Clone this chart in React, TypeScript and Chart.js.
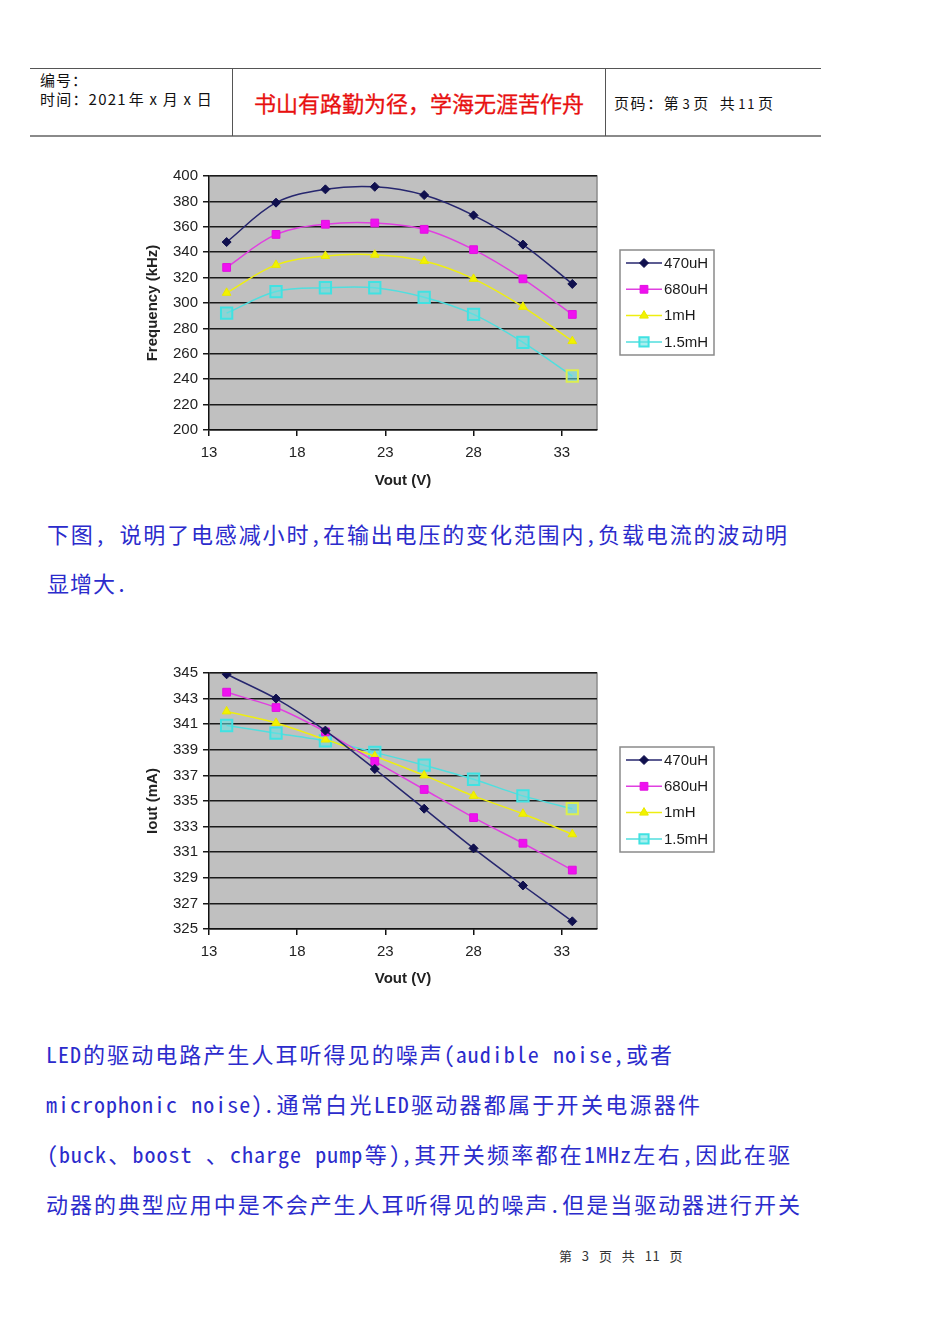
import React, { useEffect, useRef } from "react";
import { Chart, registerables } from "chart.js";

Chart.register(...registerables);

// ---------- data ----------
const vout = [14, 16.8, 19.6, 22.4, 25.2, 28, 30.8, 33.6];
const seriesNames = ["470uH", "680uH", "1mH", "1.5mH"];

const freq470 = [348, 379, 389.5, 391.5, 385, 369, 346, 315];
const freq680 = [328, 354, 362, 363, 358, 342, 319, 291];
const freq1m = [308, 330, 337, 338, 333, 319, 297, 270];
const freq15m = [292, 309, 312, 312, 304.5, 291, 269, 242.5];

const iout470 = [344.9, 343.0, 340.5, 337.5, 334.4, 331.3, 328.4, 325.6];
const iout680 = [343.5, 342.3, 340.4, 338.1, 335.9, 333.7, 331.7, 329.6];
const iout1m = [342.0, 341.1, 339.8, 338.5, 337.0, 335.4, 334.0, 332.4];
const iout15m = [340.9, 340.3, 339.7, 338.8, 337.8, 336.7, 335.4, 334.4];

const xTicks = [13, 18, 23, 28, 33];
const freqTicks = [200, 220, 240, 260, 280, 300, 320, 340, 360, 380, 400];
const ioutTicks = [325, 327, 329, 331, 333, 335, 337, 339, 341, 343, 345];

const xTitle = "Vout (V)";
const freqTitle = "Frequency (kHz)";
const ioutTitle = "Iout (mA)";

// ---------- styles ----------
const seriesStyles = [
  { line: "#26266e", fill: "#10104e", stroke: "#10104e", point: "rectRot", radius: 4.5, bw: 1, lastStroke: "#10104e" },
  { line: "#e040e0", fill: "#f010f0", stroke: "#e010e0", point: "rect", radius: 5.5, bw: 1, lastStroke: "#e010e0" },
  { line: "#eeee10", fill: "#f2f200", stroke: "#e8e800", point: "triangle", radius: 5, bw: 1, lastStroke: "#e8e800" },
  { line: "#50dede", fill: "rgba(100,226,226,0.55)", stroke: "#40e2e2", point: "rect", radius: 8, bw: 2, lastStroke: "#dcee50" },
];

const FONT = "'Liberation Sans', Arial, sans-serif";

function drawMarker(ctx: CanvasRenderingContext2D, st: any, x: number, y: number) {
  ctx.save();
  ctx.fillStyle = st.fill;
  ctx.strokeStyle = st.stroke;
  ctx.lineWidth = st.bw;
  ctx.beginPath();
  const r = st.radius;
  if (st.point === "rectRot") {
    ctx.moveTo(x, y - r);
    ctx.lineTo(x + r, y);
    ctx.lineTo(x, y + r);
    ctx.lineTo(x - r, y);
    ctx.closePath();
  } else if (st.point === "rect") {
    const s = r * Math.SQRT1_2;
    ctx.rect(x - s, y - s, 2 * s, 2 * s);
  } else {
    ctx.moveTo(x, y - r);
    ctx.lineTo(x + r * 0.87, y + r * 0.5);
    ctx.lineTo(x - r * 0.87, y + r * 0.5);
    ctx.closePath();
  }
  ctx.fill();
  ctx.stroke();
  ctx.restore();
}

const plotBgPlugin = {
  id: "plotBg",
  beforeDraw(chart: any) {
    const { ctx, chartArea: a } = chart;
    ctx.save();
    ctx.fillStyle = "#c0c0c0";
    ctx.fillRect(a.left, a.top, a.right - a.left, a.bottom - a.top);
    ctx.strokeStyle = "#8c8c8c";
    ctx.lineWidth = 1.5;
    ctx.beginPath();
    ctx.moveTo(a.left, a.top);
    ctx.lineTo(a.right, a.top);
    ctx.lineTo(a.right, a.bottom);
    ctx.stroke();
    ctx.restore();
  },
};

const legendBoxPlugin = {
  id: "legendBox",
  afterDraw(chart: any) {
    const { ctx } = chart;
    const bx = 482, by = 95, bw = 94, bh = 105;
    ctx.save();
    ctx.fillStyle = "#ffffff";
    ctx.fillRect(bx, by, bw, bh);
    ctx.strokeStyle = "#8a8a8a";
    ctx.lineWidth = 1.5;
    ctx.strokeRect(bx, by, bw, bh);
    chart.data.datasets.forEach((ds: any, i: number) => {
      const st = seriesStyles[i];
      const y = by + 13 + i * 26.3;
      ctx.strokeStyle = st.line;
      ctx.lineWidth = 1.5;
      ctx.beginPath();
      ctx.moveTo(bx + 6, y);
      ctx.lineTo(bx + 42, y);
      ctx.stroke();
      drawMarker(ctx, { ...st, radius: Math.min(st.radius, 6.5) }, bx + 24, y);
      ctx.fillStyle = "#1a1a1a";
      ctx.font = `15px ${FONT}`;
      ctx.textBaseline = "middle";
      ctx.textAlign = "left";
      ctx.fillText(ds.label, bx + 44, y + 0.5);
    });
    ctx.restore();
  },
};

function makeDatasets(series: number[][], tension: number) {
  return series.map((vals, i) => {
    const st = seriesStyles[i];
    return {
      label: seriesNames[i],
      data: vals.map((v, j) => ({ x: vout[j], y: v })),
      borderColor: st.line,
      borderWidth: 1.5,
      pointStyle: st.point,
      pointRadius: st.radius,
      pointBackgroundColor: st.fill,
      pointBorderColor: vals.map((_, j) => (j === vals.length - 1 ? st.lastStroke : st.stroke)),
      pointBorderWidth: st.bw,
      tension,
      fill: false,
    };
  });
}

function LineChart(props: {
  series: number[][];
  yTicks: number[];
  yTitle: string;
  xAxisHeight: number;
  xTitleBottom: number;
  tension: number;
  left: number;
  top: number;
}) {
  const ref = useRef<HTMLCanvasElement | null>(null);
  useEffect(() => {
    if (!ref.current) return;
    const yTicks = props.yTicks;
    const chart = new Chart(ref.current, {
      type: "line",
      data: { datasets: makeDatasets(props.series, props.tension) as any },
      options: {
        animation: false,
        responsive: false,
        devicePixelRatio: 1,
        layout: { padding: { left: 0, top: 21, right: 121, bottom: 0 } },
        plugins: { legend: { display: false }, tooltip: { enabled: false } },
        scales: {
          x: {
            type: "linear",
            min: 13,
            max: 35,
            afterBuildTicks: (s: any) => {
              s.ticks = xTicks.map((v) => ({ value: v }));
            },
            afterFit: (s: any) => {
              s.height = props.xAxisHeight;
            },
            border: { color: "#111", width: 1.5 },
            grid: { drawOnChartArea: false, drawTicks: true, tickLength: 6, color: "#111", lineWidth: 1.5 },
            ticks: { color: "#222", font: { size: 15, family: FONT }, padding: 8, maxRotation: 0 },
            title: {
              display: true,
              text: xTitle,
              color: "#222",
              font: { size: 15, weight: "bold", family: FONT },
              padding: { top: 4, bottom: props.xTitleBottom },
            },
          },
          y: {
            type: "linear",
            min: yTicks[0],
            max: yTicks[yTicks.length - 1],
            afterBuildTicks: (s: any) => {
              s.ticks = yTicks.map((v) => ({ value: v }));
            },
            afterFit: (s: any) => {
              s.width = 71;
            },
            border: { color: "#111", width: 1.5 },
            grid: { color: "#1a1a1a", lineWidth: 1.5, tickLength: 6, drawTicks: true },
            ticks: { color: "#222", font: { size: 15, family: FONT }, padding: 5 },
            title: {
              display: true,
              text: props.yTitle,
              color: "#222",
              font: { size: 15, weight: "bold", family: FONT },
              padding: { top: 6, bottom: 4 },
            },
          },
        },
      },
      plugins: [plotBgPlugin, legendBoxPlugin],
    });
    return () => chart.destroy();
  }, []);
  return (
    <canvas
      ref={ref}
      width={580}
      height={345}
      style={{ position: "absolute", left: props.left, top: props.top, width: 580, height: 345 }}
    />
  );
}

// ---------- text ----------
const BLUE = "#2b2bcc";
const bodyFont = "'Noto Sans Mono CJK SC', 'Noto Sans CJK SC', 'Liberation Mono', monospace";
const cjkFont = "'Noto Sans CJK SC', 'Liberation Sans', sans-serif";

const textLines = [
  { x: 47, y: 533, w: 741, t: "下图, 说明了电感减小时,在输出电压的变化范围内,负载电流的波动明", j: true },
  { x: 47, y: 582, w: 200, t: "显增大.", j: false },
  { x: 46, y: 1053, w: 627, t: "LED的驱动电路产生人耳听得见的噪声(audible noise,或者", j: true },
  { x: 46, y: 1103, w: 655, t: "microphonic noise).通常白光LED驱动器都属于开关电源器件", j: true },
  { x: 47, y: 1153, w: 744, t: "(buck、boost 、charge pump等),其开关频率都在1MHz左右,因此在驱", j: true },
  { x: 46, y: 1203, w: 755, t: "动器的典型应用中是不会产生人耳听得见的噪声.但是当驱动器进行开关", j: true },
];

function TextLine(p: { x: number; y: number; w: number; t: string; j: boolean }) {
  return (
    <div
      style={{
        position: "absolute",
        left: p.x,
        top: p.y - 16,
        width: p.w,
        height: 32,
        lineHeight: "32px",
        fontSize: 22,
        letterSpacing: "1px",
        fontFamily: bodyFont,
        color: BLUE,
        whiteSpace: "nowrap",
        textAlign: p.j ? "justify" : "left",
        textAlignLast: p.j ? "justify" : "left",
      } as any}
    >
      {p.t}
    </div>
  );
}

export default function App() {
  return (
    <div style={{ position: "absolute", left: 0, top: 0, width: 950, height: 1344, background: "#fff", overflow: "hidden" }}>
      {/* header table */}
      <div style={{ position: "absolute", left: 30, top: 68, width: 791, height: 1, background: "#555" }} />
      <div style={{ position: "absolute", left: 30, top: 135, width: 791, height: 2, background: "#8a8a8a" }} />
      <div style={{ position: "absolute", left: 232, top: 68, width: 1, height: 68, background: "#555" }} />
      <div style={{ position: "absolute", left: 605, top: 68, width: 1, height: 68, background: "#555" }} />
      <div style={{ position: "absolute", left: 40, top: 70, fontFamily: cjkFont, fontSize: 15, lineHeight: "20px", letterSpacing: "1px", color: "#111", whiteSpace: "nowrap" }}>
        编号：
      </div>
      <div style={{ position: "absolute", left: 40, top: 89, fontFamily: cjkFont, fontSize: 15, lineHeight: "20px", letterSpacing: "1.2px", color: "#111", whiteSpace: "nowrap" }}>
        时间：2021<span style={{ marginLeft: 2 }}>年</span> x <span>月</span> x <span>日</span>
      </div>
      <div style={{ position: "absolute", left: 233, top: 88, width: 372, textAlign: "center", fontFamily: cjkFont, fontSize: 22, lineHeight: "28px", color: "#e81010", whiteSpace: "nowrap", WebkitTextStroke: "0.3px #e81010" } as any}>
        书山有路勤为径，学海无涯苦作舟
      </div>
      <div style={{ position: "absolute", left: 614, top: 93, fontFamily: cjkFont, fontSize: 15, lineHeight: "20px", letterSpacing: "1.6px", color: "#111", whiteSpace: "nowrap" }}>
        页码：第<span style={{ fontSize: 13, margin: "0 2px" }}>3</span>页&nbsp;&nbsp;共<span style={{ fontSize: 13, margin: "0 2px" }}>11</span>页
      </div>

      {/* chart 1 */}
      <LineChart
        series={[freq470, freq680, freq1m, freq15m]}
        yTicks={freqTicks}
        yTitle={freqTitle}
        xAxisHeight={70}
        xTitleBottom={10}
        tension={0.35}
        left={138}
        top={155}
      />

      {/* chart 2 */}
      <LineChart
        series={[iout470, iout680, iout1m, iout15m]}
        yTicks={ioutTicks}
        yTitle={ioutTitle}
        xAxisHeight={68}
        xTitleBottom={9}
        tension={0.25}
        left={138}
        top={652}
      />

      {textLines.map((l, i) => (
        <TextLine key={i} {...l} />
      ))}

      {/* footer */}
      <div style={{ position: "absolute", left: 521, top: 1247, width: 200, textAlign: "center", fontFamily: cjkFont, fontSize: 13, lineHeight: "18px", color: "#333", whiteSpace: "pre", wordSpacing: "6px", letterSpacing: "0.5px" }}>
        第 3 页 共 11 页
      </div>
    </div>
  );
}
